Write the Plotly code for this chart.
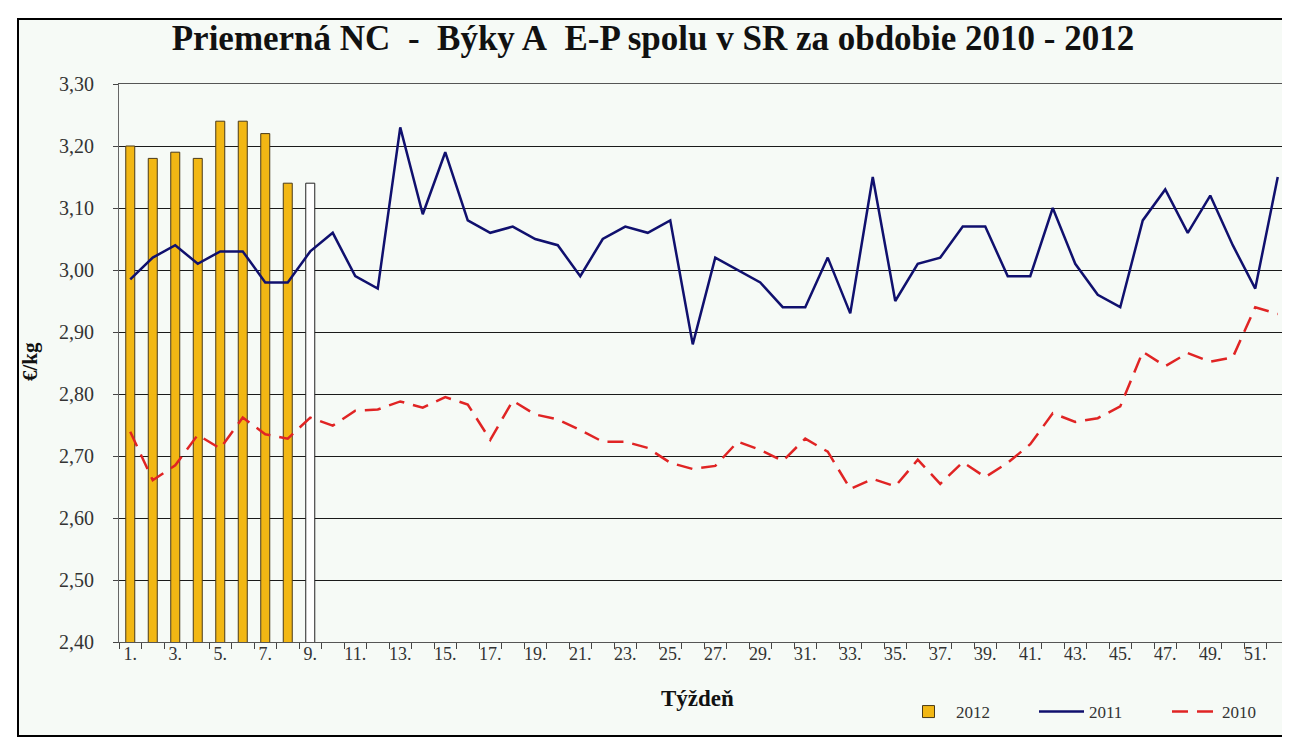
import plotly.graph_objects as go

# ---- data ----
weeks = list(range(1, 53))
week_labels_odd = [f"{w}." for w in weeks if w % 2 == 1]
weeks_odd = [w for w in weeks if w % 2 == 1]

weeks_2012 = [1, 2, 3, 4, 5, 6, 7, 8]
price_2012 = [3.20, 3.18, 3.19, 3.18, 3.24, 3.24, 3.22, 3.14]
weeks_2012_extra = [9]
price_2012_extra = [3.14]

price_2011 = [2.985, 3.02, 3.04, 3.01, 3.03, 3.03, 2.98, 2.98, 3.03, 3.06,
              2.99, 2.97, 3.23, 3.09, 3.19, 3.08, 3.06, 3.07, 3.05, 3.04,
              2.99, 3.05, 3.07, 3.06, 3.08, 2.88, 3.02, 3.00, 2.98, 2.94,
              2.94, 3.02, 2.93, 3.15, 2.95, 3.01, 3.02, 3.07, 3.07, 2.99,
              2.99, 3.10, 3.01, 2.96, 2.94, 3.08, 3.13, 3.06, 3.12, 3.04,
              2.97, 3.15]

price_2010 = [2.739, 2.661, 2.685, 2.734, 2.712, 2.762, 2.735, 2.728, 2.762, 2.749,
              2.773, 2.775, 2.788, 2.778, 2.795, 2.783, 2.726, 2.789, 2.767, 2.759,
              2.742, 2.723, 2.723, 2.713, 2.689, 2.679, 2.684, 2.723, 2.710, 2.692,
              2.728, 2.707, 2.647, 2.663, 2.651, 2.694, 2.655, 2.690, 2.666, 2.689,
              2.719, 2.769, 2.755, 2.761, 2.780, 2.868, 2.845, 2.866, 2.852, 2.859,
              2.940, 2.929]

y_ticks = [2.4, 2.5, 2.6, 2.7, 2.8, 2.9, 3.0, 3.1, 3.2, 3.3]

# ---- styling ----
SERIF = "Liberation Serif"
BG = "#F6FAF6"
W, H = 1290, 739
ML, MR, MT, MB = 111, 9, 76, 105
PW = W - ML - MR
PH = H - MT - MB


def px_x(px):
    return (px - ML) / PW


def px_y(py):
    return (H - MB - py) / PH


fig = go.Figure()

fig.add_trace(go.Bar(
    x=weeks_2012, y=price_2012, name="2012", width=0.4,
    marker=dict(color="#F2B714", line=dict(color="#4a3a18", width=1)),
))
fig.add_trace(go.Bar(
    x=weeks_2012_extra, y=price_2012_extra, name="2012 (9.)", width=0.4,
    showlegend=False,
    marker=dict(color="white", line=dict(color="#222222", width=1)),
))
fig.add_trace(go.Scatter(
    x=weeks, y=price_2011, name="2011", mode="lines",
    line=dict(color="#10106E", width=2.5),
))
fig.add_trace(go.Scatter(
    x=weeks, y=price_2010, name="2010", mode="lines",
    line=dict(color="#E02424", width=2.5, dash="16px,9px"),
))

fig.update_layout(
    width=W, height=H,
    margin=dict(l=ML, r=MR, t=MT, b=MB, autoexpand=False),
    paper_bgcolor="white",
    plot_bgcolor=BG,
    separators=", ",
    barmode="overlay",
    showlegend=True,
    title=dict(
        text="Priemerná NC\u00a0 - \u00a0Býky A\u00a0 E-P spolu v SR za obdobie 2010 - 2012",
        font=dict(family=SERIF, size=35, color="#111111", weight="bold"),
        x=0.5, xanchor="center", xref="container",
        y=1 - 30 / H, yanchor="middle",
    ),
    xaxis=dict(
        range=[0.5, 52.5],
        tickmode="array", tickvals=weeks_odd, ticktext=week_labels_odd,
        ticks="", ticklabelstandoff=-5,
        tickfont=dict(family=SERIF, size=18, color="#333333"),
        minor=dict(tickvals=[w - 0.5 for w in weeks] + [52.5], ticks="outside",
                   ticklen=6, tickcolor="#444444", tickwidth=1, showgrid=False),
        showgrid=False, zeroline=False,
        showline=True, linecolor="#555555", linewidth=1, mirror=True,
    ),
    yaxis=dict(
        range=[2.4, 3.3],
        tickmode="array", tickvals=y_ticks, tickformat=".2f",
        ticks="outside", ticklen=5, tickcolor="#444444",
        ticklabelstandoff=15,
        tickfont=dict(family=SERIF, size=20, color="#333333"),
        showgrid=True, gridcolor="#1a1a1a", gridwidth=1,
        zeroline=False,
        showline=True, linecolor="#666666", linewidth=1, mirror=True,
    ),
    legend=dict(
        orientation="h",
        x=px_x(893), y=px_y(704), xanchor="left", yanchor="middle",
        bgcolor="rgba(0,0,0,0)",
        font=dict(family=SERIF, size=17, color="#333333"),
        entrywidth=73, entrywidthmode="pixels",
        itemwidth=45,
        traceorder="normal",
    ),
    shapes=[
        dict(type="rect", xref="paper", yref="paper", layer="below",
             x0=px_x(10), x1=px_x(1286), y0=px_y(728), y1=px_y(11),
             fillcolor=BG, line=dict(color="black", width=2)),
    ],
    annotations=[
        dict(text="<b>€/kg</b>", xref="paper", yref="paper",
             x=px_x(22), y=px_y(354), textangle=-90, showarrow=False,
             xanchor="center", yanchor="middle",
             font=dict(family=SERIF, size=21, color="#111111")),
        dict(text="<b>Týždeň</b>", xref="paper", yref="paper",
             x=px_x(689), y=px_y(690), showarrow=False,
             xanchor="center", yanchor="middle",
             font=dict(family=SERIF, size=23, color="#111111")),
    ],
)

fig.write_html("out.html")
